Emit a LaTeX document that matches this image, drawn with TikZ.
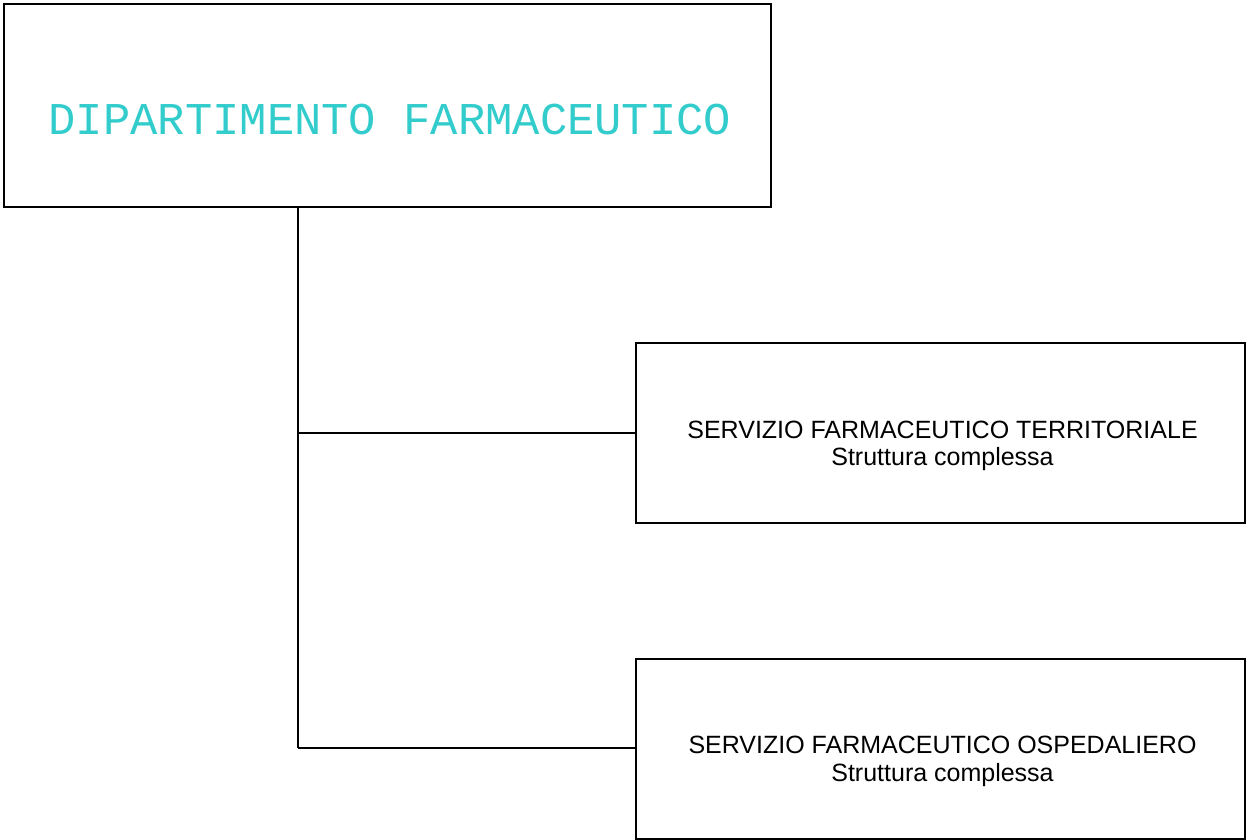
\documentclass[tikz,border=0pt]{standalone}
\usepackage{fontspec}
\setmainfont{Liberation Sans}
\newfontfamily\monofam{Liberation Mono}
\definecolor{turq}{RGB}{51,204,204}
\begin{document}
\begin{tikzpicture}[x=1pt,y=-1pt,
  box/.style={draw=black,line width=1.5pt,inner sep=0pt,outer sep=0pt,rectangle,fill=white},
  conn/.style={draw=black,line width=1.2pt},
  lbl/.style={font=\fontsize{25}{27.5}\selectfont,align=center,inner sep=0pt,anchor=base}]
\useasboundingbox[fill=white] (0,0) rectangle (1247,840);
\node[box,minimum width=767pt,minimum height=203pt] (top) at (387.5,105.5) {};
\node[box,minimum width=609pt,minimum height=180pt] (terr) at (940.5,433) {};
\node[box,minimum width=609pt,minimum height=180pt] (osp) at (940.5,749) {};
\node[font=\monofam\fontsize{45.5}{45.5}\selectfont,text=turq,inner sep=0pt,anchor=base] (toptext) at (390,135) {DIPARTIMENTO FARMACEUTICO};
\node[lbl] (terrtext) at (942.5,465.5) {SERVIZIO FARMACEUTICO TERRITORIALE\\Struttura complessa};
\node[lbl] (osptext) at (942.5,781) {SERVIZIO FARMACEUTICO OSPEDALIERO\\Struttura complessa};
\coordinate (j1) at (298,433);
\coordinate (j2) at (298,748);
\draw[conn] (top.south -| j1) -- (j2);
\draw[conn] (j1) -- (j1 -| terr.west);
\draw[conn] (j2) -- (j2 -| osp.west);
\end{tikzpicture}
\end{document}
